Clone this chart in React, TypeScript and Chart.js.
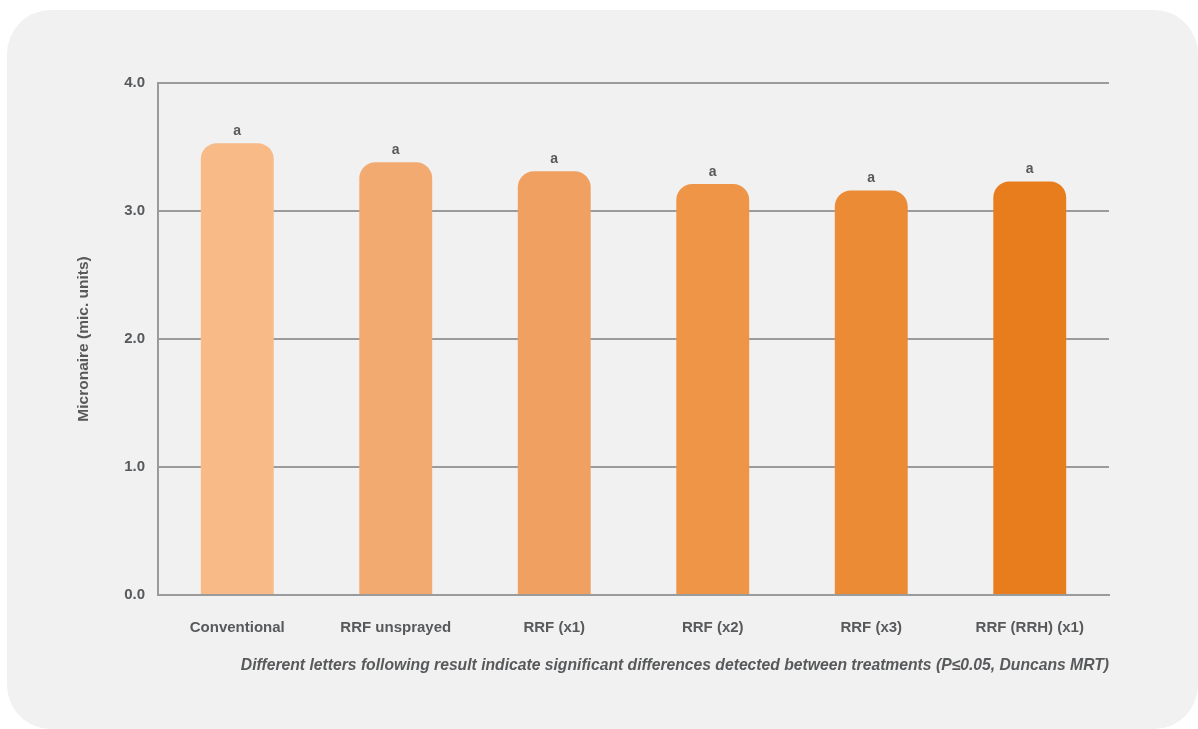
import React, { useEffect, useRef } from "react";
import { Chart, registerables } from "chart.js";

Chart.register(...registerables);

const categories = [
  "Conventional",
  "RRF unsprayed",
  "RRF (x1)",
  "RRF (x2)",
  "RRF (x3)",
  "RRF (RRH) (x1)",
];
const micronaire = [3.53, 3.38, 3.31, 3.21, 3.16, 3.23];
const significance = ["a", "a", "a", "a", "a", "a"];
const barColors = ["#F8BA86", "#F3AA70", "#F0A060", "#EE9548", "#EC8B35", "#E87D1E"];
const yTicks = [0, 1, 2, 3, 4];
const yTitle = "Micronaire (mic. units)";
const footnote =
  "Different letters following result indicate significant differences detected between treatments (P\u22640.05, Duncans MRT)";

const FONT = "'Liberation Sans', Arial, Helvetica, sans-serif";
const TEXT = "#58595B";
const GRID = "#9B9B9B";

export default function App() {
  const ref = useRef<HTMLCanvasElement | null>(null);

  useEffect(() => {
    if (!ref.current) return;
    const labelsPlugin = {
      id: "sigLabels",
      afterDatasetsDraw(chart: any) {
        const ctx = chart.ctx;
        const meta = chart.getDatasetMeta(0);
        ctx.save();
        ctx.font = `bold 14px ${FONT}`;
        ctx.fillStyle = TEXT;
        ctx.textAlign = "center";
        ctx.textBaseline = "middle";
        meta.data.forEach((bar: any, i: number) => {
          ctx.fillText(significance[i], bar.x, bar.y - 12);
        });
        ctx.font = `italic bold 15.7px ${FONT}`;
        ctx.textAlign = "right";
        ctx.fillText(footnote, chart.chartArea.right, 666);
        ctx.restore();
      },
    };

    const chart = new Chart(ref.current, {
      type: "bar",
      data: {
        labels: categories,
        datasets: [
          {
            data: micronaire,
            backgroundColor: barColors,
            borderRadius: 16,
            categoryPercentage: 1,
            barPercentage: 0.46,
          },
        ],
      },
      plugins: [labelsPlugin],
      options: {
        animation: false,
        responsive: false,
        maintainAspectRatio: false,
        layout: { padding: { top: 83, right: 89, bottom: 0, left: 0 } },
        plugins: {
          legend: { display: false },
          tooltip: { enabled: false },
        },
        scales: {
          x: {
            grid: { display: false, drawTicks: false },
            border: { display: true, color: GRID, width: 2 },
            ticks: {
              color: TEXT,
              font: { family: FONT, size: 15, weight: "bold" },
              padding: 24,
              maxRotation: 0,
            },
            afterFit: (scale: any) => {
              scale.height = 134;
            },
          },
          y: {
            min: 0,
            max: 4,
            afterBuildTicks: (scale: any) => {
              scale.ticks = yTicks.map((v) => ({ value: v }));
            },
            grid: { color: GRID, lineWidth: 2, drawTicks: false },
            border: { display: true, color: GRID, width: 2 },
            ticks: {
              color: TEXT,
              font: { family: FONT, size: 15, weight: "bold" },
              padding: 13,
              callback: (v: any) => Number(v).toFixed(1),
            },
            title: {
              display: true,
              text: yTitle,
              color: TEXT,
              font: { family: FONT, size: 15.5, weight: "bold" },
              padding: { top: 74, bottom: 0 },
            },
            afterFit: (scale: any) => {
              scale.width = 158;
            },
          },
        },
      },
    } as any);
    return () => chart.destroy();
  }, []);

  return (
    <div
      style={{
        position: "fixed",
        left: 0,
        top: 0,
        width: 1198,
        height: 729,
        background: "#ffffff",
        overflow: "hidden",
      }}
    >
      <div
        style={{
          position: "absolute",
          left: 7,
          top: 10,
          width: 1191,
          height: 719,
          borderRadius: 44,
          background: "#F1F1F1",
        }}
      />
      <canvas
        ref={ref}
        width={1198}
        height={729}
        style={{ position: "absolute", left: 0, top: 0, width: 1198, height: 729 }}
      />
    </div>
  );
}
